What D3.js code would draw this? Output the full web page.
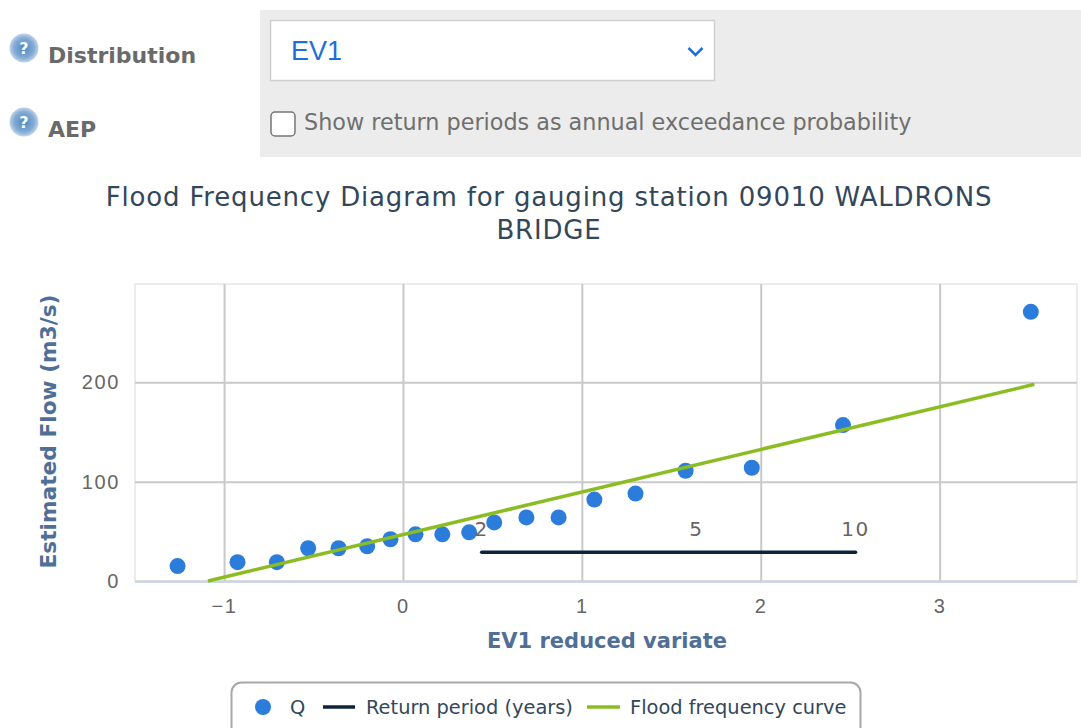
<!DOCTYPE html>
<html>
<head>
<meta charset="utf-8">
<title>Flood Frequency Diagram</title>
<script src="https://cdn.jsdelivr.net/npm/d3@7"></script>
<style>
  html, body { margin: 0; padding: 0; background: #fff; overflow: hidden; }
  svg { display: block; font-family: "DejaVu Sans", sans-serif; }
</style>
</head>
<body>
<svg id="chart" width="1081" height="728"></svg>
<script>
// Chart data
var xTicks = [-1, 0, 1, 2, 3];
var yTicks = [0, 100, 200];
var qX = [-1.26, -0.925, -0.705, -0.53, -0.36, -0.2, -0.07, 0.07, 0.22, 0.37, 0.51, 0.69, 0.87, 1.07, 1.30, 1.58, 1.95, 2.46, 3.51];
var qY = [15, 19, 19, 33, 33, 35, 42, 47, 47, 49, 59, 64, 64, 82, 88, 111, 114, 157, 271];
var curveX = [-1.09, 3.53];
var curveY = [0, 198];
var returnX = [0.44, 1.64, 2.53];
var returnY = [29, 29, 29];
var returnLabels = ["2", "5", "10"];
var titleLines = ["Flood Frequency Diagram for gauging station 09010 WALDRONS", "BRIDGE"];

// Colours
var blue = "#2b7cdb", navy = "#0d233a", green = "#8bbc21", grid = "#c9c9c9", axisTitle = "#4f6f96", tickText = "#666666";

var svg = d3.select("#chart");

// Plot area
var plot = { left: 135, right: 1077, top: 284, bottom: 581 };
var x = d3.scaleLinear().domain([-1.498, 3.768]).range([plot.left, plot.right]);
var y = d3.scaleLinear().domain([0, 299]).range([plot.bottom, plot.top]);

// Form panel
var panel = svg.append("g").attr("class", "form-panel");
panel.append("rect").attr("x", 260).attr("y", 10).attr("width", 821).attr("height", 147).attr("fill", "#ececec");
panel.append("rect").attr("x", 270.5).attr("y", 20.5).attr("width", 444).attr("height", 60)
  .attr("fill", "#fff").attr("stroke", "#cfcfcf").attr("stroke-width", 1.5);
panel.append("text").attr("x", 291).attr("y", 60).attr("fill", "#1f6fd6")
  .style("font-family", "'Liberation Sans', sans-serif").style("font-size", "27px").text("EV1");
panel.append("path").attr("d", "M688.5 48 L695.5 55 L702.5 48").attr("fill", "none")
  .attr("stroke", "#1f6fd6").attr("stroke-width", 2.5);
panel.append("rect").attr("x", 271).attr("y", 112).attr("width", 24).attr("height", 24).attr("rx", 4)
  .attr("fill", "#fff").attr("stroke", "#767676").attr("stroke-width", 1.5);
panel.append("text").attr("x", 304).attr("y", 130).attr("fill", "#6f6f6f")
  .style("font-size", "22.3px").text("Show return periods as annual exceedance probability");

// Help icons and labels
var gradient = svg.append("defs").append("radialGradient").attr("id", "help-fill");
gradient.append("stop").attr("offset", "0%").attr("stop-color", "#4f86bd");
gradient.append("stop").attr("offset", "70%").attr("stop-color", "#84acd6");
gradient.append("stop").attr("offset", "100%").attr("stop-color", "#c3d4e6");

var helpRows = [{ cy: 48, tx: 48, ty: 63, label: "Distribution" }, { cy: 122, tx: 48, ty: 137, label: "AEP" }];
var rows = svg.selectAll(".help-row").data(helpRows).enter().append("g").attr("class", "help-row");
rows.append("circle").attr("cx", 24).attr("cy", function (d) { return d.cy; }).attr("r", 14.5).attr("fill", "url(#help-fill)");
rows.append("text").attr("x", 24).attr("y", function (d) { return d.cy + 6; }).attr("text-anchor", "middle")
  .attr("fill", "#fff").style("font-size", "16px").style("font-weight", "bold").text("?");
rows.append("text").attr("x", function (d) { return d.tx; }).attr("y", function (d) { return d.ty; })
  .attr("fill", "#6a6a6a").style("font-size", "22px").style("font-weight", "bold").text(function (d) { return d.label; });

// Title
svg.selectAll(".title-line").data(titleLines).enter().append("text").attr("class", "title-line")
  .attr("x", 549).attr("y", function (d, i) { return 206 + i * 33; }).attr("text-anchor", "middle")
  .attr("fill", "#33475b").style("font-size", "26px").style("letter-spacing", "0.82px").text(function (d) { return d; });

// Plot border
svg.append("rect").attr("x", plot.left).attr("y", plot.top).attr("width", plot.right - plot.left)
  .attr("height", plot.bottom - plot.top).attr("fill", "#fff").attr("stroke", "#e6e6e6").attr("stroke-width", 1.5);

// Axes with gridlines
var xAxis = svg.append("g").attr("transform", "translate(0," + plot.bottom + ")")
  .call(d3.axisBottom(x).tickValues(xTicks).tickSize(-(plot.bottom - plot.top)).tickPadding(18)
    .tickFormat(function (d) { return d < 0 ? "\u2212" + Math.abs(d) : d; }));
var yAxis = svg.append("g").attr("transform", "translate(" + plot.left + ",0)")
  .call(d3.axisLeft(y).tickValues(yTicks).tickSize(-(plot.right - plot.left)).tickPadding(15));
[xAxis, yAxis].forEach(function (axis) {
  axis.selectAll(".tick line").attr("stroke", grid).attr("stroke-width", 2);
  axis.selectAll(".tick text").attr("fill", tickText).style("font-size", "20px").style("letter-spacing", "1.6px");
  axis.select(".domain").remove();
});
svg.append("line").attr("x1", plot.left).attr("x2", plot.right).attr("y1", plot.bottom + 1).attr("y2", plot.bottom + 1)
  .attr("stroke", "#ccd6eb").attr("stroke-width", 2);

// Axis titles
svg.append("text").attr("x", 607).attr("y", 648).attr("text-anchor", "middle").attr("fill", axisTitle)
  .style("font-size", "21px").style("font-weight", "bold").text("EV1 reduced variate");
svg.append("text").attr("transform", "translate(56,431.5) rotate(-90)").attr("text-anchor", "middle").attr("fill", axisTitle)
  .style("font-size", "21.7px").style("font-weight", "bold").text("Estimated Flow (m3/s)");

// Series
var line = d3.line().x(function (d) { return x(d[0]); }).y(function (d) { return y(d[1]); });

svg.append("g").attr("class", "q-points").selectAll("circle").data(d3.zip(qX, qY)).enter().append("circle")
  .attr("cx", function (d) { return x(d[0]); }).attr("cy", function (d) { return y(d[1]); })
  .attr("r", 8).attr("fill", blue);

svg.append("path").datum(d3.zip(returnX, returnY)).attr("d", line).attr("fill", "none")
  .attr("stroke", navy).attr("stroke-width", 3.5).attr("stroke-linecap", "round");
svg.selectAll(".return-label").data(returnLabels).enter().append("text").attr("class", "return-label")
  .attr("x", function (d, i) { return x(returnX[i]); }).attr("y", function (d, i) { return y(returnY[i]) - 16; })
  .attr("text-anchor", "middle").attr("fill", tickText).style("font-size", "20px").style("letter-spacing", "1.6px").text(function (d) { return d; });

svg.append("path").datum(d3.zip(curveX, curveY)).attr("d", line).attr("fill", "none")
  .attr("stroke", green).attr("stroke-width", 3.5);

// Legend
var legend = svg.append("g").attr("class", "legend");
legend.append("rect").attr("x", 231.5).attr("y", 682.5).attr("width", 629).attr("height", 60).attr("rx", 10)
  .attr("fill", "#fff").attr("stroke", "#a8a8a8").attr("stroke-width", 2);
legend.append("circle").attr("cx", 263).attr("cy", 707).attr("r", 8).attr("fill", blue);
legend.append("line").attr("x1", 323).attr("x2", 355).attr("y1", 707).attr("y2", 707).attr("stroke", navy).attr("stroke-width", 3.5);
legend.append("line").attr("x1", 587).attr("x2", 620).attr("y1", 707).attr("y2", 707).attr("stroke", green).attr("stroke-width", 3.5);
var legendItems = [{ x: 290, label: "Q" }, { x: 366, label: "Return period (years)" }, { x: 630, label: "Flood frequency curve" }];
legend.selectAll("text").data(legendItems).enter().append("text")
  .attr("x", function (d) { return d.x; }).attr("y", 714).attr("fill", "#33475b")
  .style("font-size", "19.4px").text(function (d) { return d.label; });
</script>
</body>
</html>
